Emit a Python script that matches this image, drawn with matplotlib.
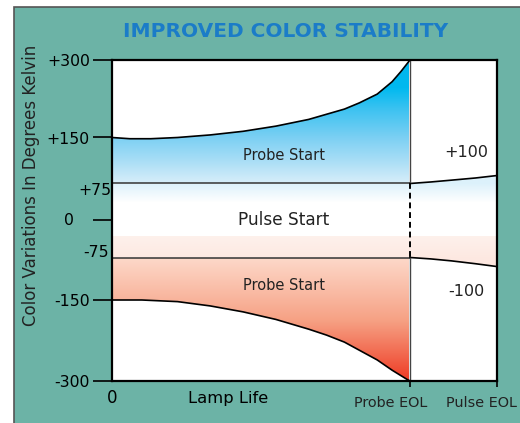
import numpy as np
import matplotlib
matplotlib.use('Agg')
import matplotlib.pyplot as plt
from matplotlib.colors import LinearSegmentedColormap
from matplotlib.patches import Polygon, Rectangle

# y axis is a schematic, not linear: tick values and where they sit (px from bottom)
tick_vals = [-300, -150, -75, 0, 75, 150, 300]
tick_pos = [42, 123, 165.5, 203, 239.5, 285.5, 363]
major_ticks = [-300, -150, 0, 150, 300]
major_labels = ['-300', '-150', '', '+150', '+300']

# probe start spread (upper and lower), lamp life 0..100 = probe EOL
probe_x_up = [0, 6, 13, 22, 33, 44, 55, 66, 78, 83, 89, 94, 97, 100]
probe_up = [150, 148, 148, 150, 155, 162, 172, 185, 205, 217, 234, 258, 278, 300]
probe_x_lo = [0, 10, 22, 33, 44, 55, 66, 72, 78, 83, 89, 94, 99, 100]
probe_lo = [-150, -150, -153, -161, -172, -186, -204, -215, -228, -243, -261, -280, -297, -300]

# pulse start spread
pulse_band = 75
pulse_x = [100, 107, 114, 122, 129.2]
pulse_up = [75, 77.5, 80.5, 84, 88]
pulse_lo = [-75, -77.5, -81, -86, -91]
probe_eol = 100
pulse_eol = 129.2


def fwd(v):
    return np.interp(v, tick_vals, tick_pos)


def inv(p):
    return np.interp(p, tick_pos, tick_vals)


fig = plt.figure(figsize=(5.2, 4.23), dpi=100)
fig.patch.set_facecolor('white')
fig.add_artist(Rectangle((14 / 520, -0.05), 1.1, 1.05 - 7 / 423, transform=fig.transFigure,
                         facecolor='#6cb3a6', edgecolor='#555555', lw=1.2, zorder=0))

ax = fig.add_axes([112 / 520, 1 - 381 / 423, 385 / 520, 321 / 423])
ax.set_facecolor('white')
ax.set_yscale('function', functions=(fwd, inv))
ax.set_xlim(0, pulse_eol)
ax.set_ylim(-300, 300)


def gradient(vmin, vmax, stops, poly_pts, xmax):
    vals = np.array([s[0] for s in stops], dtype=float)
    cols = [s[1] for s in stops]
    cmap = LinearSegmentedColormap.from_list('g', list(zip((vals - vmin) / (vmax - vmin), cols)))
    img = np.linspace(0, 1, 400).reshape(-1, 1)
    im = ax.imshow(img, cmap=cmap, aspect='auto', origin='lower',
                   extent=[0, xmax, vmin, vmax], interpolation='bilinear', zorder=1)
    poly = Polygon(poly_pts, closed=True, facecolor='none', edgecolor='none')
    ax.add_patch(poly)
    im.set_clip_path(poly)


# blue probe region
pts = list(zip(probe_x_up, probe_up)) + [(probe_eol, pulse_band), (0, pulse_band)]
gradient(75, 300, [(75, '#d5edf9'), (110, '#a9def6'), (150, '#79cff3'), (200, '#40c3f1'),
                   (245, '#00b9ef'), (300, '#00b6ee')], pts, probe_eol)

# light blue fade under +75
pts = [(0, pulse_band)] + list(zip(pulse_x, pulse_up)) + [(pulse_eol, 35), (0, 35)]
gradient(35, 88, [(35, '#ffffff'), (75, '#dcf1fb'), (88, '#dcf1fb')], pts, pulse_eol)

# pink band above -75
pts = [(0, -30), (pulse_eol, -30)] + list(zip(pulse_x, pulse_lo))[::-1] + [(0, -pulse_band)]
gradient(-91, -30, [(-91, '#fde6de'), (-75, '#fde9e2'), (-30, '#fef1ec')], pts, pulse_eol)

# red probe region
pts = [(0, -pulse_band), (probe_eol, -pulse_band)] + list(zip(probe_x_lo, probe_lo))[::-1]
gradient(-300, -75, [(-300, '#ee3a24'), (-250, '#f26a50'), (-190, '#f6a083'),
                     (-75, '#fdd9ca')], pts, probe_eol)

# lines
ax.plot(probe_x_up, probe_up, color='black', lw=1.2, zorder=3)
ax.plot(probe_x_lo, probe_lo, color='black', lw=1.2, zorder=3)
ax.plot([0, probe_eol], [pulse_band, pulse_band], color='#333333', lw=1.1, zorder=3)
ax.plot([0, probe_eol], [-pulse_band, -pulse_band], color='#333333', lw=1.1, zorder=3)
ax.plot(pulse_x, pulse_up, color='black', lw=1.2, zorder=3)
ax.plot(pulse_x, pulse_lo, color='black', lw=1.2, zorder=3)
ax.plot([probe_eol, probe_eol], [300, pulse_band], color='#444444', lw=1.0, zorder=3)
ax.plot([probe_eol, probe_eol], [-pulse_band, -300], color='#444444', lw=1.0, zorder=3)
ax.plot([probe_eol, probe_eol], [pulse_band, -pulse_band], color='black', lw=1.4,
        ls=(0, (3, 2)), zorder=3)

for s in ax.spines.values():
    s.set_linewidth(1.6)
    s.set_color('black')
    s.set_zorder(4)

ax.set_yticks(major_ticks)
ax.set_yticklabels(major_labels)
ax.yaxis.set_minor_locator(matplotlib.ticker.NullLocator())
ax.tick_params(axis='y', length=14, width=1.2, pad=2, labelsize=11.3, colors='black')
ax.set_xticks([probe_eol, pulse_eol])
ax.set_xticklabels(['', ''])
ax.tick_params(axis='x', length=4, width=1.2, direction='out')

# 0, +75, -75 labels sit apart from the other tick labels
ax.annotate('0', xy=(0, 0), xytext=(-38, -1), textcoords='offset pixels',
            ha='right', va='center', fontsize=11.3, annotation_clip=False)
ax.annotate('+75', xy=(0, 75), xytext=(-1, -7), textcoords='offset pixels',
            ha='right', va='center', fontsize=11.3, annotation_clip=False)
ax.annotate('-75', xy=(0, -75), xytext=(-3, 5), textcoords='offset pixels',
            ha='right', va='center', fontsize=11.3, annotation_clip=False)

ax.text(57.7, 120, 'Probe Start', ha='center', va='center', fontsize=10.5, color='#222222', zorder=5)
ax.text(57.7, -125, 'Probe Start', ha='center', va='center', fontsize=10.5, color='#222222', zorder=5)
ax.text(57.7, 0, 'Pulse Start', ha='center', va='center', fontsize=12.2, color='#222222', zorder=5)
ax.text(118.8, 125, '+100', ha='center', va='center', fontsize=11.5, color='#222222', zorder=5)
ax.text(118.8, -135, '-100', ha='center', va='center', fontsize=11.5, color='#222222', zorder=5)

xt = ax.get_xaxis_transform()
ax.text(0, -0.053, '0', transform=xt, ha='center', va='center', fontsize=12, clip_on=False)
ax.text(39, -0.053, 'Lamp Life', transform=xt, ha='center', va='center', fontsize=11.8, clip_on=False)
ax.text(93.5, -0.068, 'Probe EOL', transform=xt, ha='center', va='center', fontsize=10.4,
        color='#222222', clip_on=False)
ax.text(112, -0.068, 'Pulse EOL', transform=xt, ha='left', va='center', fontsize=10.4,
        color='#222222', clip_on=False)

fig.text(31 / 520, 1 - 185 / 423, 'Color Variations In Degrees Kelvin', rotation=90,
         ha='center', va='center', fontsize=12, color='#222222')
fig.text(286 / 520, 1 - 31.5 / 423, 'IMPROVED COLOR STABILITY', ha='center', va='center',
         fontsize=14.5, fontweight='bold', color='#1b7cc8')

fig.savefig('out.png', dpi=100)
